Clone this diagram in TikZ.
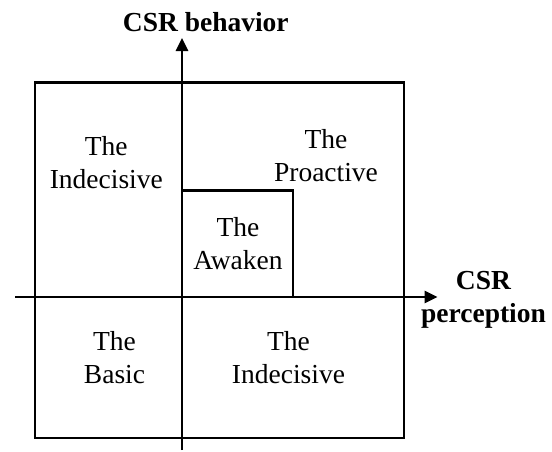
\documentclass[tikz,border=0pt]{standalone}
\usepackage{fontspec}
\setmainfont{Liberation Serif}
\usetikzlibrary{arrows.meta}
\begin{document}
\begin{tikzpicture}[x=0.5pt,y=-0.5pt,
  axis/.style={line width=1.4pt,-{Triangle[length=6.5pt,width=6pt]}},
  frame/.style={line width=1.4pt},
  lbl/.style={anchor=base,inner sep=0pt,font=\fontsize{13.75}{16.75}\selectfont},
  axlbl/.style={anchor=base,inner sep=0pt,font=\fontsize{13.75}{16.75}\selectfont\bfseries}]
\useasboundingbox (0,0) rectangle (552,451);
\draw[frame] (35,82.5) rectangle (404,438);
\draw[frame] (182,297) |- (293,190.5) -- (293,297);
\coordinate (xs) at (15,297);
\coordinate (xe) at (437.5,297);
\coordinate (ys) at (182,450);
\coordinate (ye) at (182,38);
\draw[axis] (xs) -- (xe);
\draw[axis] (ys) -- (ye);
\node[axlbl] (ylab) at (205.8,31.5) {CSR behavior};
\node[axlbl] (xlab) at (483.5,289) {\begin{tabular}[t]{@{}c@{}}CSR\\perception\end{tabular}};
\node[lbl] (tl) at (106.3,155) {\begin{tabular}[t]{@{}c@{}}The\\Indecisive\end{tabular}};
\node[lbl] (tr) at (326,148.3) {\begin{tabular}[t]{@{}c@{}}The\\Proactive\end{tabular}};
\node[lbl] (aw) at (238,236) {\begin{tabular}[t]{@{}c@{}}The\\Awaken\end{tabular}};
\node[lbl] (bl) at (114.5,350) {\begin{tabular}[t]{@{}c@{}}The\\Basic\end{tabular}};
\node[lbl] (br) at (288.5,350) {\begin{tabular}[t]{@{}c@{}}The\\Indecisive\end{tabular}};
\end{tikzpicture}
\end{document}
